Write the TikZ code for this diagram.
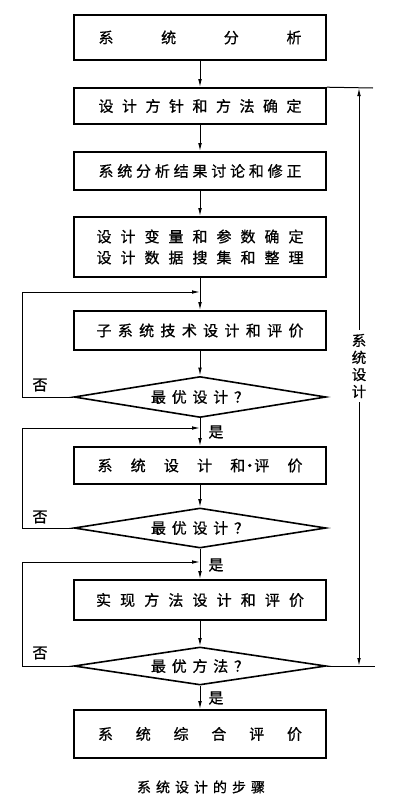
\documentclass[tikz,border=0pt]{standalone}
\usepackage{fontspec}
\setmainfont{Noto Sans CJK SC}[FakeBold=0.8]
\usetikzlibrary{arrows.meta,shapes.geometric}
\newcommand\spr[2]{\makebox[#1pt][s]{#2}}
\begin{document}
\begin{tikzpicture}[x=1pt,y=-1pt,
  box/.style={draw,line width=1.6pt,rectangle,inner sep=0pt,minimum width=252pt,font=\fontsize{15}{18}\selectfont},
  dia/.style={draw,line width=1.6pt,diamond,aspect=6.3,inner sep=0pt,minimum width=252pt,font=\fontsize{15}{18}\selectfont},
  conn/.style={line width=1pt,-{Latex[length=8pt,width=3.6pt]}},
  plain/.style={line width=1pt},
  lab/.style={font=\fontsize{15}{18}\selectfont,inner sep=0pt}]
\useasboundingbox (0,0) rectangle (400,806);
\node[box,minimum height=45pt] (b1) at (200,37.5) {\spr{203}{系\hfill 统\hfill 分\hfill 析}};
\node[box,minimum height=36pt] (b2) at (200,106) {\spr{203}{设\hfill 计\hfill 方\hfill 针\hfill 和\hfill 方\hfill 法\hfill 确\hfill 定}};
\node[box,minimum height=38pt] (b3) at (200,171) {\spr{203}{系\hfill 统\hfill 分\hfill 析\hfill 结\hfill 果\hfill 讨\hfill 论\hfill 和\hfill 修\hfill 正}};
\node[box,minimum height=60pt,align=center] (b4) at (200,247) {\spr{207}{设\hfill 计\hfill 变\hfill 量\hfill 和\hfill 参\hfill 数\hfill 确\hfill 定}\\[3pt]\spr{207}{设\hfill 计\hfill 数\hfill 据\hfill 搜\hfill 集\hfill 和\hfill 整\hfill 理}};
\node[box,minimum height=39pt] (b5) at (200,330.5) {\spr{207}{子\hfill 系\hfill 统\hfill 技\hfill 术\hfill 设\hfill 计\hfill 和\hfill 评\hfill 价}};
\node[dia,minimum height=41pt] (d1) at (200,397) {\spr{98}{最\hfill 优\hfill 设\hfill 计\hfill ？}};
\node[box,minimum height=37pt] (b6) at (200,465.5) {\spr{205}{系\hfill 统\hfill 设\hfill 计\hfill 和\kern-3pt ·\kern-3pt 评\hfill 价}};
\node[dia,minimum height=40pt] (d2) at (200,528) {\spr{98}{最\hfill 优\hfill 设\hfill 计\hfill ？}};
\node[box,minimum height=40pt] (b7) at (200,600) {\spr{208}{实\hfill 现\hfill 方\hfill 法\hfill 设\hfill 计\hfill 和\hfill 评\hfill 价}};
\node[dia,minimum height=38pt] (d3) at (200,666) {\spr{98}{最\hfill 优\hfill 方\hfill 法\hfill ？}};
\node[box,minimum height=48pt] (b8) at (200,734) {\spr{204}{系\hfill 统\hfill 综\hfill 合\hfill 评\hfill 价}};
\node[lab,font=\fontsize{14}{16}\selectfont] (cap) at (201,787) {\spr{128}{系\hfill 统\hfill 设\hfill 计\hfill 的\hfill 步\hfill 骤}};
% merge points
\coordinate (m1) at (200,292);
\coordinate (m2) at (200,428);
\coordinate (m3) at (200,562);
% main flow
\draw[conn] (b1) -- (b2);
\draw[conn] (b2) -- (b3);
\draw[conn] (b3) -- (b4);
\draw[conn] (b4) -- (b5);
\draw[conn] (b5) -- (d1);
\draw[conn] (d1) -- (b6);
\draw[conn] (b6) -- (d2);
\draw[conn] (d2) -- (b7);
\draw[conn] (b7) -- (d3);
\draw[conn] (d3) -- (b8);
% loops
\draw[conn] (d1.west) -- ++(-51,0) |- (m1);
\draw[conn] (d2.west) -- ++(-51,0) |- (m2);
\draw[conn] (d3.west) -- ++(-51,0) |- (m3);
\node[lab] (n1) at (40,385) {否};
\node[lab] (n2) at (40,517) {否};
\node[lab] (n3) at (40,653) {否};
\node[lab] (y1) at (216,432) {是};
\node[lab] (y2) at (216,565) {是};
\node[lab] (y3) at (216,698) {是};
% bracket
\coordinate (t1) at (373,88);
\coordinate (t2) at (375,666);
\draw[plain] (b2.north east) -- (t1);
\draw[plain] (d3.east) -- (t2);
\node[lab,font=\fontsize{14.5}{17}\selectfont,align=center,fill=white,inner ysep=4pt] (sd) at (359,366) {系\\统\\设\\计};
\draw[conn] (sd.north) -- (sd.north |- t1);
\draw[conn] (sd.south) -- (sd.south |- t2);
\end{tikzpicture}
\end{document}
